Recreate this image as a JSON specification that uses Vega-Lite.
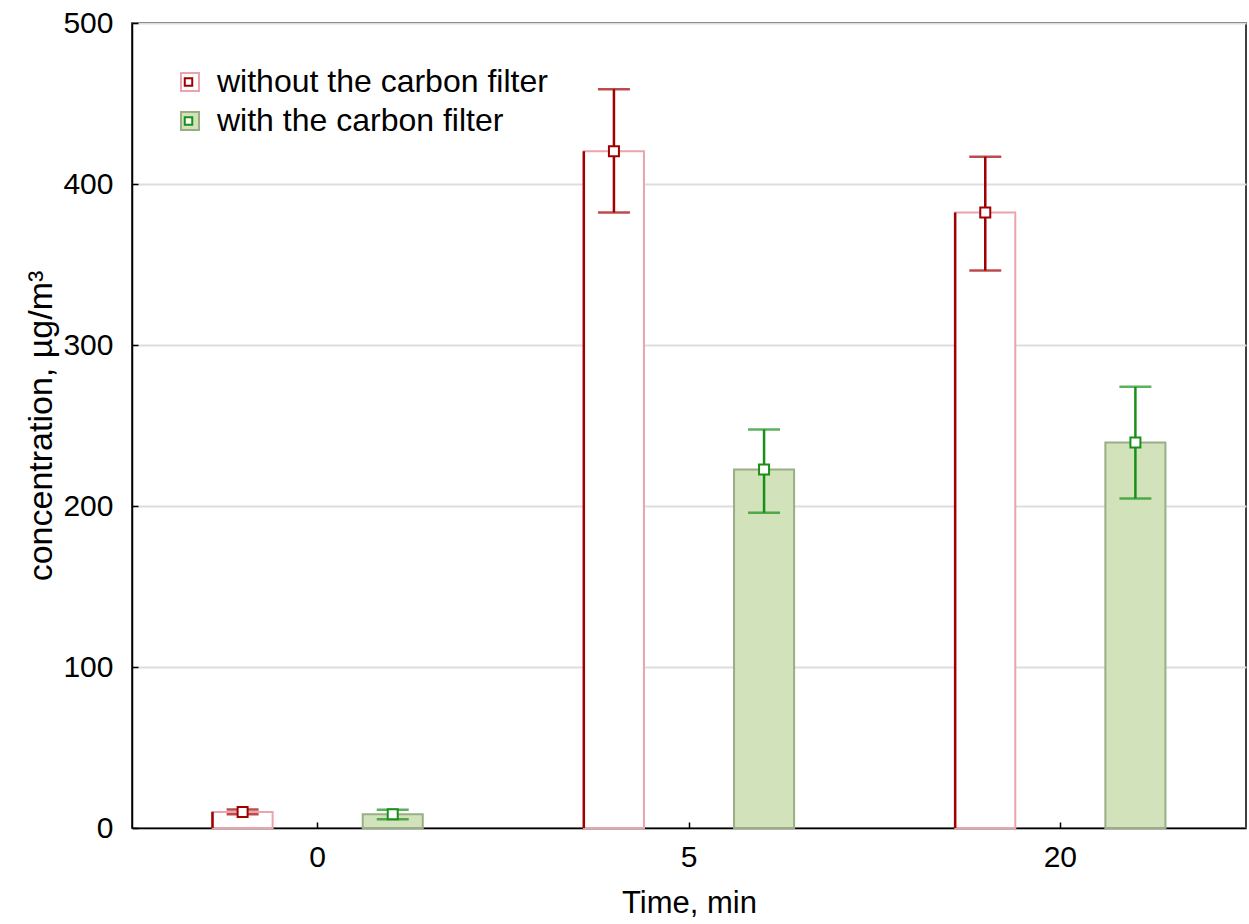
{
  "$schema": "https://vega.github.io/schema/vega-lite/v6.json",
  "width": 1114,
  "height": 805,
  "autosize": {"type": "none"},
  "padding": {"left": 132, "top": 23, "right": 3, "bottom": 96},
  "background": "white",
  "config": {
    "font": "Liberation Sans",
    "view": {"stroke": "#000", "strokeWidth": 1.5},
    "axis": {
      "labelFont": "Liberation Sans",
      "titleFont": "Liberation Sans",
      "labelColor": "#000",
      "titleColor": "#000",
      "domainColor": "#000",
      "tickColor": "#000",
      "domainWidth": 1.5,
      "tickWidth": 1.5,
      "titleFontWeight": "normal",
      "labelFontSize": 30
    },
    "legend": {"labelFont": "Liberation Sans", "labelFontSize": 32, "labelColor": "#000", "labelLimit": 0}
  },
  "data": {
    "values": [
      {"time": "0", "series": "without the carbon filter", "mean": 10, "lo": 8.5, "hi": 11.5},
      {"time": "0", "series": "with the carbon filter", "mean": 8.5, "lo": 5.5, "hi": 11.3},
      {"time": "5", "series": "without the carbon filter", "mean": 420.3, "lo": 382.3, "hi": 458.8},
      {"time": "5", "series": "with the carbon filter", "mean": 222.7, "lo": 195.8, "hi": 247.5},
      {"time": "20", "series": "without the carbon filter", "mean": 382.3, "lo": 346.2, "hi": 417},
      {"time": "20", "series": "with the carbon filter", "mean": 239.4, "lo": 204.7, "hi": 274}
    ]
  },
  "resolve": {"scale": {"xOffset": "independent"}},
  "layer": [
    {
      "mark": {"type": "bar", "strokeWidth": 2},
      "encoding": {
        "x": {
          "field": "time", "type": "nominal", "sort": ["0", "5", "20"],
          "scale": {"paddingInner": 0, "paddingOuter": 0},
          "axis": {"labelAngle": 0, "tickSize": -6, "labelPadding": 20, "title": "Time, min", "titleFontSize": 31, "titlePadding": 16}
        },
        "xOffset": {
          "field": "series", "type": "nominal",
          "scale": {"type": "band", "domain": ["without the carbon filter", "with the carbon filter"], "paddingInner": 0.6, "paddingOuter": 0.5367}
        },
        "y": {
          "field": "mean", "type": "quantitative",
          "scale": {"domain": [0, 500], "nice": false},
          "axis": {"values": [0, 100, 200, 300, 400, 500], "grid": true, "gridColor": "#dddddd", "gridWidth": 2, "tickSize": -6, "labelPadding": 25, "title": "concentration, µg/m³", "titleFontSize": 34, "titlePadding": 4}
        },
        "fill": {
          "field": "series", "type": "nominal",
          "scale": {"domain": ["without the carbon filter", "with the carbon filter"], "range": ["#ffffff", "#d2e3bc"]},
          "legend": {
            "title": null, "orient": "none", "legendX": 42, "legendY": 43, "padding": 0,
            "symbolType": "square", "symbolSize": 324, "symbolStrokeWidth": 2,
            "labelOffset": 11, "rowPadding": 7, "zindex": 0
          }
        },
        "stroke": {
          "field": "series", "type": "nominal",
          "scale": {"domain": ["without the carbon filter", "with the carbon filter"], "range": ["#eba4ab", "#9aae86"]},
          "legend": null
        }
      }
    },
    {
      "transform": [{"filter": "datum.series === 'without the carbon filter'"}],
      "mark": {"type": "rule", "color": "#a00000", "strokeWidth": 2.5},
      "encoding": {
        "x": {"field": "time", "type": "nominal", "sort": ["0", "5", "20"]},
        "xOffset": {
          "field": "series", "type": "nominal",
          "scale": {"type": "band", "domain": ["without the carbon filter", "with the carbon filter"], "paddingInner": 0.98, "paddingOuter": 0.7265, "align": 0.362}
        },
        "y": {"field": "mean", "type": "quantitative"},
        "y2": {"datum": 0}
      }
    },
    {
      "mark": {"type": "rule", "strokeWidth": 2.5},
      "encoding": {
        "x": {"field": "time", "type": "nominal", "sort": ["0", "5", "20"]},
        "xOffset": {
          "field": "series", "type": "nominal",
          "scale": {"type": "band", "domain": ["without the carbon filter", "with the carbon filter"], "paddingInner": 0.6, "paddingOuter": 0.5367}
        },
        "y": {"field": "lo", "type": "quantitative"},
        "y2": {"field": "hi"},
        "color": {
          "field": "series", "type": "nominal",
          "sort": ["without the carbon filter", "with the carbon filter"],
          "scale": {"range": ["#a00000", "#189018"]},
          "legend": {
            "title": null, "orient": "none", "legendX": 42, "legendY": 43, "padding": 0,
            "symbolType": "square", "symbolSize": 56, "symbolStrokeWidth": 2, "symbolFillColor": "#ffffff",
            "symbolOffset": -1.5, "labelOffset": 11, "rowPadding": 7, "labelOpacity": 0, "zindex": 1
          }
        }
      }
    },
    {
      "mark": {"type": "tick", "size": 32, "thickness": 2.5},
      "encoding": {
        "x": {"field": "time", "type": "nominal", "sort": ["0", "5", "20"]},
        "xOffset": {
          "field": "series", "type": "nominal",
          "scale": {"type": "band", "domain": ["without the carbon filter", "with the carbon filter"], "paddingInner": 0.6, "paddingOuter": 0.5367}
        },
        "y": {"field": "hi", "type": "quantitative"},
        "color": {"condition": {"test": "datum.series === 'without the carbon filter'", "value": "#a00000"}, "value": "#189018"}
      }
    },
    {
      "mark": {"type": "tick", "size": 32, "thickness": 2.5},
      "encoding": {
        "x": {"field": "time", "type": "nominal", "sort": ["0", "5", "20"]},
        "xOffset": {
          "field": "series", "type": "nominal",
          "scale": {"type": "band", "domain": ["without the carbon filter", "with the carbon filter"], "paddingInner": 0.6, "paddingOuter": 0.5367}
        },
        "y": {"field": "lo", "type": "quantitative"},
        "color": {"condition": {"test": "datum.series === 'without the carbon filter'", "value": "#a00000"}, "value": "#189018"}
      }
    },
    {
      "mark": {"type": "point", "shape": "square", "size": 100, "filled": false, "fill": "#ffffff", "strokeWidth": 2, "opacity": 1},
      "encoding": {
        "x": {"field": "time", "type": "nominal", "sort": ["0", "5", "20"]},
        "xOffset": {
          "field": "series", "type": "nominal",
          "scale": {"type": "band", "domain": ["without the carbon filter", "with the carbon filter"], "paddingInner": 0.6, "paddingOuter": 0.5367}
        },
        "y": {"field": "mean", "type": "quantitative"},
        "color": {
          "field": "series", "type": "nominal",
          "sort": ["without the carbon filter", "with the carbon filter"],
          "legend": {
            "title": null, "orient": "none", "legendX": 42, "legendY": 43, "padding": 0,
            "symbolType": "square", "symbolSize": 56, "symbolStrokeWidth": 2, "symbolFillColor": "#ffffff",
            "symbolOffset": -1.5, "labelOffset": 11, "rowPadding": 7, "labelOpacity": 0, "zindex": 1
          }
        }
      }
    }
  ]
}
